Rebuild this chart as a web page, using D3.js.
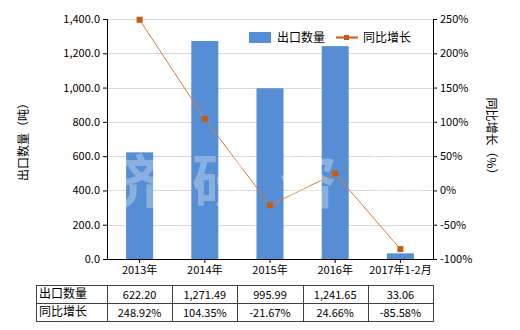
<!DOCTYPE html>
<html>
<head>
<meta charset="utf-8">
<script src="https://cdn.jsdelivr.net/npm/d3@7"></script>
<style>
body{margin:0;background:#fff;}
text{font-family:"Noto Sans CJK SC","Noto Sans",sans-serif;font-size:11px;fill:#000;}
</style>
</head>
<body>
<script>
// chart data
var categories=["2013年","2014年","2015年","2016年","2017年1-2月"];
var exportQty=[622.20,1271.49,995.99,1241.65,33.06];
var growth=[248.92,104.35,-21.67,24.66,-85.58];
var qtyLabels=["622.20","1,271.49","995.99","1,241.65","33.06"];
var growthLabels=["248.92%","104.35%","-21.67%","24.66%","-85.58%"];
var leftTicks=[0,200,400,600,800,1000,1200,1400];
var rightTicks=[-100,-50,0,50,100,150,200,250];
var watermark=["济","研","咨","询"];

var width=520,height=330;
var plotL=107,plotR=433,plotT=19,plotB=259;

var svg=d3.select("body").append("svg")
    .attr("width",width)
    .attr("height",height);

var x=d3.scaleBand().domain(categories).range([plotL,plotR]);
var y=d3.scaleLinear().domain([0,1400]).range([plotB,plotT]);
var y2=d3.scaleLinear().domain([-100,250]).range([plotB,plotT]);

// grid
svg.selectAll(".grid").data(leftTicks.slice(1))
    .enter().append("line")
    .attr("x1",plotL).attr("x2",plotR)
    .attr("y1",function(d){return Math.round(y(d))+0.5;})
    .attr("y2",function(d){return Math.round(y(d))+0.5;})
    .attr("stroke","#d9d9d9");

// bars
var bw=27;
svg.selectAll(".bar").data(exportQty)
    .enter().append("rect")
    .attr("x",function(d,i){return x(categories[i])+x.bandwidth()/2-bw/2;})
    .attr("y",function(d){return y(d);})
    .attr("width",bw)
    .attr("height",function(d){return plotB-y(d);})
    .attr("fill","#558ed5");

// line
var line=d3.line()
    .x(function(d,i){return x(categories[i])+x.bandwidth()/2;})
    .y(function(d){return y2(d);});
svg.append("path").datum(growth)
    .attr("d",line)
    .attr("fill","none")
    .attr("stroke","#e0793a")
    .attr("stroke-width",1);
svg.selectAll(".pt").data(growth)
    .enter().append("rect")
    .attr("x",function(d,i){return x(categories[i])+x.bandwidth()/2-3;})
    .attr("y",function(d){return y2(d)-3;})
    .attr("width",6).attr("height",6)
    .attr("fill","#c55a11");

// watermark, one glyph at a time
svg.selectAll(".wm").data(watermark)
    .enter().append("text")
    .attr("x",function(d,i){return 134+i*87;})
    .attr("y",203)
    .attr("text-anchor","middle")
    .style("font-size","58px")
    .style("font-weight","bold")
    .style("fill","#ffffff")
    .style("opacity",0.3)
    .text(function(d){return d;});

// axes
var axL=d3.axisLeft(y).tickValues(leftTicks).tickSize(4)
    .tickFormat(function(d){return d3.format(",.1f")(d);});
svg.append("g").attr("transform","translate("+plotL+",0)").call(axL);
var axR=d3.axisRight(y2).tickValues(rightTicks).tickSize(4)
    .tickFormat(function(d){return d+"%";});
svg.append("g").attr("transform","translate("+plotR+",0)").call(axR);
var axB=d3.axisBottom(x).tickSize(4).tickSizeOuter(0);
svg.append("g").attr("transform","translate(0,"+plotB+")").call(axB);
svg.selectAll(".domain,.tick line").attr("stroke","#000");
svg.selectAll(".tick text").style("font-size","11px").attr("fill","#000");

// axis titles
svg.append("text")
    .attr("transform","translate(28,"+((plotT+plotB)/2)+") rotate(-90)")
    .attr("text-anchor","middle")
    .style("font-size","12px")
    .text("出口数量（吨）");
svg.append("text")
    .attr("transform","translate(487,"+((plotT+plotB)/2)+") rotate(90)")
    .attr("text-anchor","middle")
    .style("font-size","12px")
    .text("同比增长（%）");

// legend
svg.append("rect").attr("x",249).attr("y",32).attr("width",22).attr("height",11).attr("fill","#558ed5");
svg.append("text").attr("x",277).attr("y",42).style("font-size","12px").text("出口数量");
svg.append("line").attr("x1",336).attr("x2",358).attr("y1",37.5).attr("y2",37.5)
    .attr("stroke","#c55a11").attr("stroke-width",2);
svg.append("rect").attr("x",344).attr("y",35).attr("width",5).attr("height",5).attr("fill","#c55a11");
svg.append("text").attr("x",363).attr("y",42).style("font-size","12px").text("同比增长");

// table
var tLeft=36,tTop=285,rowH=18;
var rows=[["出口数量"].concat(qtyLabels),["同比增长"].concat(growthLabels)];
var tbl=svg.append("g");
tbl.append("rect").attr("x",tLeft+0.5).attr("y",tTop+0.5)
    .attr("width",plotR-tLeft).attr("height",rowH*2)
    .attr("fill","none").attr("stroke","#404040");
tbl.append("line").attr("x1",tLeft).attr("x2",plotR)
    .attr("y1",tTop+rowH+0.5).attr("y2",tTop+rowH+0.5).attr("stroke","#404040");
tbl.selectAll(".vl").data(categories)
    .enter().append("line")
    .attr("x1",function(d){return Math.round(x(d))+0.5;})
    .attr("x2",function(d){return Math.round(x(d))+0.5;})
    .attr("y1",tTop).attr("y2",tTop+rowH*2)
    .attr("stroke","#404040");
rows.forEach(function(r,ri){
    tbl.append("text").attr("x",tLeft+3).attr("y",tTop+rowH*ri+13)
        .style("font-size","12px").text(r[0]);
    r.slice(1).forEach(function(v,ci){
        tbl.append("text")
            .attr("x",x(categories[ci])+x.bandwidth()/2)
            .attr("y",tTop+rowH*ri+14)
            .attr("text-anchor","middle")
            .text(v);
    });
});
</script>
</body>
</html>
